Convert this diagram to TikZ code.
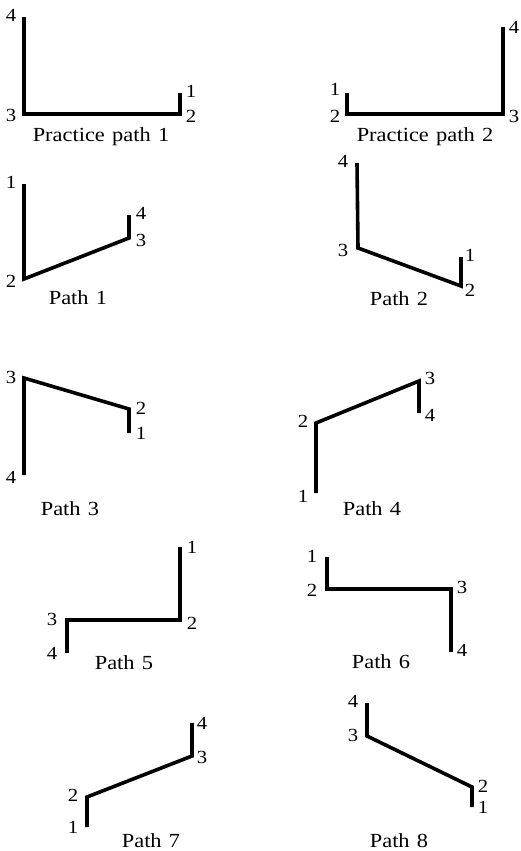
\documentclass[tikz,border=0pt]{standalone}
\usepackage{fontspec}
\setmainfont{Liberation Serif}
\newfontfamily\numfont[FakeStretch=1.12]{Liberation Serif}
\newfontfamily\capfont[FakeStretch=1.12,WordSpace=1.3]{Liberation Serif}
\begin{document}
\begin{tikzpicture}[x=1pt,y=-1pt,
  trail/.style={line width=3.6pt,line join=miter,line cap=butt},
  num/.style={inner sep=0pt,anchor=center,font=\numfont\fontsize{18.5}{18.5}\selectfont},
  caption/.style={inner sep=0pt,anchor=base,font=\capfont\fontsize{20}{20}\selectfont}]
\useasboundingbox[fill=white] (0,0) rectangle (520,851);

% Practice path 1
\coordinate (a1) at (180,93);
\coordinate (a2) at (180,114);
\coordinate (a3) at (24,114);
\coordinate (a4) at (24,17);
\draw[trail] (a1) -- (a2) -- (a3) -- (a4);
\node[num] (la1) at (191,91) {1};
\node[num] (la2) at (191,116) {2};
\node[num] (la3) at (11,115) {3};
\node[num] (la4) at (11,15) {4};
\node[caption] (ca) at (101,141) {Practice path 1};

% Practice path 2
\coordinate (b1) at (347,93);
\coordinate (b2) at (347,114);
\coordinate (b3) at (503,114);
\coordinate (b4) at (503,27);
\draw[trail] (b1) -- (b2) -- (b3) -- (b4);
\node[num] (lb1) at (335,89) {1};
\node[num] (lb2) at (335,116) {2};
\node[num] (lb3) at (514,116) {3};
\node[num] (lb4) at (514,27) {4};
\node[caption] (cb) at (425,141) {Practice path 2};

% Path 1
\coordinate (p11) at (24,184);
\coordinate (p12) at (24,279);
\coordinate (p13) at (129,238);
\coordinate (p14) at (129,215);
\draw[trail] (p11) -- (p12) -- (p13) -- (p14);
\node[num] (l11) at (11,182) {1};
\node[num] (l12) at (11,281) {2};
\node[num] (l13) at (141,240) {3};
\node[num] (l14) at (141,213) {4};
\node[caption] (c1) at (78,304) {Path 1};

% Path 2
\coordinate (p21) at (461,257);
\coordinate (p22) at (461,286);
\coordinate (p23) at (358,248);
\coordinate (p24) at (357,163);
\draw[trail] (p21) -- (p22) -- (p23) -- (p24);
\node[num] (l21) at (470,255) {1};
\node[num] (l22) at (470,290) {2};
\node[num] (l23) at (343,250) {3};
\node[num] (l24) at (343,161) {4};
\node[caption] (c2) at (399,305) {Path 2};

% Path 3
\coordinate (p31) at (129,433);
\coordinate (p32) at (129,409);
\coordinate (p33) at (24,378);
\coordinate (p34) at (24,475);
\draw[trail] (p31) -- (p32) -- (p33) -- (p34);
\node[num] (l31) at (141,433) {1};
\node[num] (l32) at (141,408) {2};
\node[num] (l33) at (11,377) {3};
\node[num] (l34) at (11,477) {4};
\node[caption] (c3) at (70,515) {Path 3};

% Path 4
\coordinate (p41) at (316,493);
\coordinate (p42) at (316,423);
\coordinate (p43) at (419,381);
\coordinate (p44) at (419,413);
\draw[trail] (p41) -- (p42) -- (p43) -- (p44);
\node[num] (l41) at (303,496) {1};
\node[num] (l42) at (303,421) {2};
\node[num] (l43) at (430,378) {3};
\node[num] (l44) at (430,415) {4};
\node[caption] (c4) at (372,515) {Path 4};

% Path 5
\coordinate (p51) at (180,547);
\coordinate (p52) at (180,620);
\coordinate (p53) at (67,620);
\coordinate (p54) at (67,653);
\draw[trail] (p51) -- (p52) -- (p53) -- (p54);
\node[num] (l51) at (192,547) {1};
\node[num] (l52) at (192,623) {2};
\node[num] (l53) at (52,619) {3};
\node[num] (l54) at (52,653) {4};
\node[caption] (c5) at (124,669) {Path 5};

% Path 6
\coordinate (p61) at (327,557);
\coordinate (p62) at (327,589);
\coordinate (p63) at (451,589);
\coordinate (p64) at (451,652);
\draw[trail] (p61) -- (p62) -- (p63) -- (p64);
\node[num] (l61) at (312,556) {1};
\node[num] (l62) at (312,590) {2};
\node[num] (l63) at (462,587) {3};
\node[num] (l64) at (462,650) {4};
\node[caption] (c6) at (381,668) {Path 6};

% Path 7
\coordinate (p71) at (87,827);
\coordinate (p72) at (87,797);
\coordinate (p73) at (192,756);
\coordinate (p74) at (192,723);
\draw[trail] (p71) -- (p72) -- (p73) -- (p74);
\node[num] (l71) at (73,827) {1};
\node[num] (l72) at (73,795) {2};
\node[num] (l73) at (202,757) {3};
\node[num] (l74) at (202,723) {4};
\node[caption] (c7) at (151,847) {Path 7};

% Path 8
\coordinate (p81) at (472,807);
\coordinate (p82) at (472,787);
\coordinate (p83) at (367,736);
\coordinate (p84) at (367,703);
\draw[trail] (p81) -- (p82) -- (p83) -- (p84);
\node[num] (l81) at (483,807) {1};
\node[num] (l82) at (483,786) {2};
\node[num] (l83) at (353,735) {3};
\node[num] (l84) at (353,701) {4};
\node[caption] (c8) at (399,847) {Path 8};
\end{tikzpicture}
\end{document}
